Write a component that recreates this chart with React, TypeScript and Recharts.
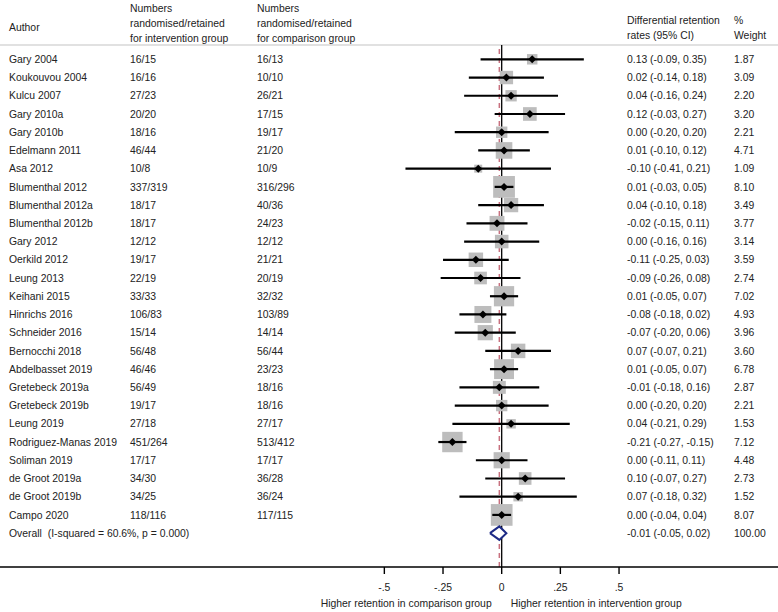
import React from 'react';
import { ScatterChart, Scatter, XAxis, YAxis, ReferenceLine } from 'recharts';

// --- study rows, top to bottom ---
const authors = [
  'Gary 2004', 'Koukouvou 2004', 'Kulcu 2007', 'Gary 2010a', 'Gary 2010b', 'Edelmann 2011',
  'Asa 2012', 'Blumenthal 2012', 'Blumenthal 2012a', 'Blumenthal 2012b', 'Gary 2012',
  'Oerkild 2012', 'Leung 2013', 'Keihani 2015', 'Hinrichs 2016', 'Schneider 2016',
  'Bernocchi 2018', 'Abdelbasset 2019', 'Gretebeck 2019a', 'Gretebeck 2019b', 'Leung 2019',
  'Rodriguez-Manas 2019', 'Soliman 2019', 'de Groot 2019a', 'de Groot 2019b', 'Campo 2020',
];
const interventionN = [
  '16/15', '16/16', '27/23', '20/20', '18/16', '46/44', '10/8', '337/319', '18/17', '18/17',
  '12/12', '19/17', '22/19', '33/33', '106/83', '15/14', '56/48', '46/46', '56/49', '19/17',
  '27/18', '451/264', '17/17', '34/30', '34/25', '118/116',
];
const comparisonN = [
  '16/13', '10/10', '26/21', '17/15', '19/17', '21/20', '10/9', '316/296', '40/36', '24/23',
  '12/12', '21/21', '20/19', '32/32', '103/89', '14/14', '56/44', '23/23', '18/16', '18/16',
  '27/17', '513/412', '17/17', '36/28', '36/24', '117/115',
];
const estimates = [
  0.13, 0.02, 0.04, 0.12, 0.0, 0.01, -0.1, 0.01, 0.04, -0.02, 0.0, -0.11, -0.09, 0.01, -0.08,
  -0.07, 0.07, 0.01, -0.01, 0.0, 0.04, -0.21, 0.0, 0.1, 0.07, 0.0,
];
const lowerCI = [
  -0.09, -0.14, -0.16, -0.03, -0.2, -0.1, -0.41, -0.03, -0.1, -0.15, -0.16, -0.25, -0.26, -0.05,
  -0.18, -0.2, -0.07, -0.05, -0.18, -0.2, -0.21, -0.27, -0.11, -0.07, -0.18, -0.04,
];
const upperCI = [
  0.35, 0.18, 0.24, 0.27, 0.2, 0.12, 0.21, 0.05, 0.18, 0.11, 0.16, 0.03, 0.08, 0.07, 0.02, 0.06,
  0.21, 0.07, 0.16, 0.2, 0.29, -0.15, 0.11, 0.27, 0.32, 0.04,
];
const weights = [
  1.87, 3.09, 2.2, 3.2, 2.21, 4.71, 1.09, 8.1, 3.49, 3.77, 3.14, 3.59, 2.74, 7.02, 4.93, 3.96,
  3.6, 6.78, 2.87, 2.21, 1.53, 7.12, 4.48, 2.73, 1.52, 8.07,
];

// --- pooled estimate ---
const overallLabel = 'Overall  (I-squared = 60.6%, p = 0.000)';
const overallEstimate = -0.01;
const overallLower = -0.05;
const overallUpper = 0.02;
const overallWeight = 100;

// --- axis ---
const xTicks = [-0.5, -0.25, 0, 0.25, 0.5];
const xTickLabels = ['-.5', '-.25', '0', '.25', '.5'];

// layout
const W = 778;
const H = 612;
const X_DOMAIN: [number, number] = [-2.1376, 1.1773];
const Y_DOMAIN: [number, number] = [-0.785, 27.857];
const COL = { author: 9, interv: 130, comp: 257, est: 627, weight: 734 };
const FONT = '"Liberation Sans", Arial, Helvetica, sans-serif';
const FS = 10.4;
const TXT = '#222';

const overallRow = authors.length;

const studyData = authors.map((a, i) => ({ x: estimates[i], y: i, w: weights[i] }));

const ciData = authors.map((a, i) => [
  { x: lowerCI[i], y: i },
  { x: upperCI[i], y: i },
]);

const DH = 0.37; // half height of pooled diamond, in rows
const diamondData = [
  { x: overallLower, y: overallRow },
  { x: overallEstimate, y: overallRow - DH },
  { x: overallUpper, y: overallRow },
  { x: overallEstimate, y: overallRow + DH },
  { x: overallLower, y: overallRow },
];

// one point per row, only used to place the text columns
const textRows = [...authors.map((_, i) => i), overallRow].map((i) => ({ x: 0, y: i, row: i }));

const f2 = (v: number) => v.toFixed(2);

// weight box (drawn under the CI line)
const WeightBox = (props: any) => {
  const { cx, cy, payload } = props;
  const s = 7.64 * Math.sqrt(payload.w);
  return <rect x={cx - s / 2} y={cy - s / 2} width={s} height={s} fill="#bdbdbd" />;
};

// point estimate marker
const PointMark = (props: any) => {
  const { cx, cy } = props;
  const r = 4;
  return <path d={`M${cx - r},${cy}L${cx},${cy - r}L${cx + r},${cy}L${cx},${cy + r}Z`} fill="#000" />;
};

const Nothing = () => <g />;

// text columns for every row, placed at the row's y
const RowText = (props: any) => {
  const { cy, payload } = props;
  const i = payload.row;
  const y = cy;
  const isOverall = i === overallRow;
  const est = isOverall ? overallEstimate : estimates[i];
  const lo = isOverall ? overallLower : lowerCI[i];
  const hi = isOverall ? overallUpper : upperCI[i];
  const w = isOverall ? overallWeight : weights[i];
  return (
    <g fontFamily={FONT} fontSize={FS} fill={TXT}>
      <text x={COL.author} y={y} dy="0.35em" style={{ whiteSpace: 'pre' }}>
        {isOverall ? overallLabel : authors[i]}
      </text>
      {!isOverall && <text x={COL.interv} y={y} dy="0.35em">{interventionN[i]}</text>}
      {!isOverall && <text x={COL.comp} y={y} dy="0.35em">{comparisonN[i]}</text>}
      <text x={COL.est} y={y} dy="0.35em">{`${f2(est)} (${f2(lo)}, ${f2(hi)})`}</text>
      <text x={COL.weight} y={y} dy="0.35em">{f2(w)}</text>
    </g>
  );
};

const AxisTitle = (props: any) => {
  const vb = props.viewBox || {};
  const zeroX = vb.x + ((0 - X_DOMAIN[0]) / (X_DOMAIN[1] - X_DOMAIN[0])) * vb.width;
  const y = vb.y + 40;
  return (
    <g fontFamily={FONT} fontSize={FS} fill={TXT}>
      <text x={zeroX - 10} y={y} textAnchor="end">Higher retention in comparison group</text>
      <text x={zeroX + 9} y={y} textAnchor="start">Higher retention in intervention group</text>
    </g>
  );
};

const headStyle: React.CSSProperties = {
  position: 'absolute',
  fontFamily: FONT,
  fontSize: FS,
  lineHeight: '15px',
  color: TXT,
  whiteSpace: 'pre',
};

export default function App() {
  return (
    <div style={{ position: 'absolute', left: 0, top: 0, width: W, height: H, background: '#fff' }}>
      <div style={{ ...headStyle, left: COL.author, top: 19.5 }}>Author</div>
      <div style={{ ...headStyle, left: COL.interv, top: 0.5 }}>
        {'Numbers\nrandomised/retained\nfor intervention group'}
      </div>
      <div style={{ ...headStyle, left: COL.comp, top: 0.5 }}>
        {'Numbers\nrandomised/retained\nfor comparison group'}
      </div>
      <div style={{ ...headStyle, left: COL.est, top: 12.5 }}>
        {'Differential retention\nrates (95% CI)'}
      </div>
      <div style={{ ...headStyle, left: COL.weight, top: 12.5 }}>{'%\nWeight'}</div>

      <ScatterChart width={W} height={H} margin={{ top: 45, right: 0, bottom: 0, left: 0 }}>
        <XAxis
          type="number"
          dataKey="x"
          domain={X_DOMAIN}
          allowDataOverflow
          ticks={xTicks}
          interval={0}
          tickFormatter={(v: number) => xTickLabels[xTicks.indexOf(v)] ?? String(v)}
          height={45}
          axisLine={{ stroke: '#000', strokeWidth: 1.4 }}
          tickLine={{ stroke: '#000', strokeWidth: 1.4 }}
          tickSize={7}
          tickMargin={10}
          tick={{ fontFamily: FONT, fontSize: FS, fill: TXT }}
          label={{ content: (p: any) => <AxisTitle {...p} /> }}
        />
        <YAxis type="number" dataKey="y" domain={Y_DOMAIN} allowDataOverflow reversed width={0} hide />
        <ReferenceLine y={Y_DOMAIN[0]} stroke="#c4c4c4" strokeWidth={1.2} ifOverflow="visible" />
        <Scatter data={textRows} shape={<RowText />} isAnimationActive={false} />
        <Scatter data={studyData} shape={<WeightBox />} isAnimationActive={false} />
        <ReferenceLine x={0} stroke="#000" strokeWidth={1.3} />
        <ReferenceLine x={overallEstimate} stroke="#c8707e" strokeWidth={1.5} strokeDasharray="5 4" />
        {ciData.map((pts, i) => (
          <Scatter
            key={`ci-${i}`}
            data={pts}
            shape={<Nothing />}
            line={{ stroke: '#000', strokeWidth: 2.2 }}
            lineType="joint"
            isAnimationActive={false}
          />
        ))}
        <Scatter data={studyData} shape={<PointMark />} isAnimationActive={false} />
        <Scatter
          data={diamondData}
          shape={<Nothing />}
          line={{ stroke: '#1d2a86', strokeWidth: 2, fill: '#fff' }}
          lineType="joint"
          isAnimationActive={false}
        />
      </ScatterChart>
    </div>
  );
}
